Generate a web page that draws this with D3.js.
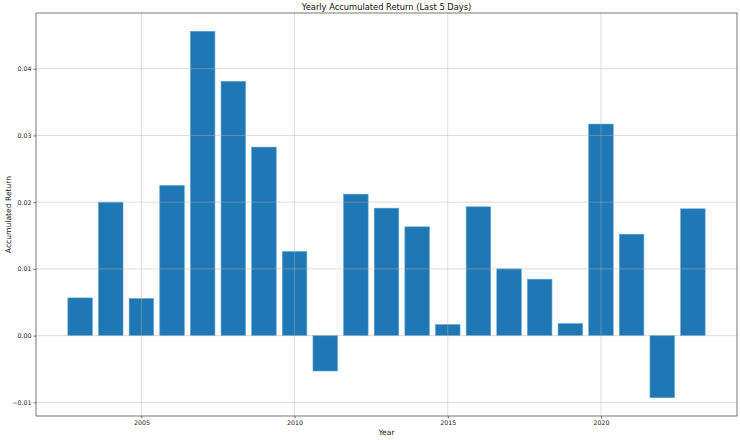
<!DOCTYPE html>
<html><head><meta charset="utf-8">
<script src="https://cdn.jsdelivr.net/npm/d3@7"></script>
<style>body{margin:0;background:#fff}svg{display:block}text{font-family:"DejaVu Sans",sans-serif}</style>
</head><body><svg id="c" width="740" height="440"></svg>
<script>
const years = [2003,2004,2005,2006,2007,2008,2009,2010,2011,2012,2013,2014,2015,2016,2017,2018,2019,2020,2021,2022,2023];
const returns = [0.00565,0.0200,0.00555,0.0225,0.0456,0.0381,0.02825,0.0126,-0.0053,0.0212,0.0191,0.0163,0.00165,0.0193,0.0100,0.00845,0.0018,0.0317,0.0152,-0.0093,0.0190];
const xTicks = [2005,2010,2015,2020];
const yTicks = [-0.01,0,0.01,0.02,0.03,0.04];

const svg = d3.select("#c");
const L=36, R=737, T=13, B=416;
const barW = 0.8;
const xMin = years[0]-barW/2, xMax = years[years.length-1]+barW/2;
const xPad = (xMax-xMin)*0.05;
const x = d3.scaleLinear().domain([xMin-xPad, xMax+xPad]).range([L,R]);
const yLo = Math.min(0,d3.min(returns)), yHi = d3.max(returns);
const yPad = (yHi-yLo)*0.05;
const y = d3.scaleLinear().domain([yLo-yPad, yHi+yPad]).range([B,T]);

// bars
svg.append("g").selectAll("rect").data(years).join("rect")
  .attr("x", (d)=>x(d-barW/2))
  .attr("width", (d)=>x(d+barW/2)-x(d-barW/2))
  .attr("y", (d,i)=>y(Math.max(0,returns[i])))
  .attr("height", (d,i)=>Math.abs(y(returns[i])-y(0)))
  .attr("fill","#1f77b4")
  .attr("stroke","#5a9fd4").attr("stroke-width",0.6);

// grid (drawn over bars)
const grid = svg.append("g").attr("stroke","#b0b0b0").attr("stroke-opacity",0.55).attr("stroke-width",0.8);
grid.selectAll(".gx").data(xTicks).join("line").attr("x1",d=>x(d)).attr("x2",d=>x(d)).attr("y1",T).attr("y2",B);
grid.selectAll(".gy").data(yTicks).join("line").attr("y1",d=>y(d)).attr("y2",d=>y(d)).attr("x1",L).attr("x2",R);

// axes
const xAxis = d3.axisBottom(x).tickValues(xTicks).tickFormat(d3.format("d")).tickSize(2.5).tickPadding(2);
const yAxis = d3.axisLeft(y).tickValues(yTicks).tickFormat(d=>d3.format(".2f")(d).replace("-","\u2212")).tickSize(2.5).tickPadding(2);
const gx = svg.append("g").attr("transform",`translate(0,${B})`).call(xAxis);
const gy = svg.append("g").attr("transform",`translate(${L},0)`).call(yAxis);
[gx,gy].forEach(g=>{
  g.select(".domain").remove();
  g.selectAll(".tick line").attr("stroke","#333").attr("stroke-width",0.7);
  g.selectAll(".tick text").attr("fill","#222").style("font-size","6.3px").style("font-family","DejaVu Sans");
});
// spines
svg.append("rect").attr("x",L).attr("y",T).attr("width",R-L).attr("height",B-T)
  .attr("fill","none").attr("stroke","#555").attr("stroke-width",0.8);

// labels
svg.append("text").attr("x",(L+R)/2).attr("y",10).attr("text-anchor","middle")
  .style("font-size","8.3px").attr("fill","#111").text("Yearly Accumulated Return (Last 5 Days)");
svg.append("text").attr("x",(L+R)/2).attr("y",435).attr("text-anchor","middle")
  .style("font-size","7.6px").attr("fill","#111").text("Year");
svg.append("text").attr("transform",`translate(10.5,${(T+B)/2}) rotate(-90)`).attr("text-anchor","middle")
  .style("font-size","7.6px").attr("fill","#111").text("Accumulated Return");
</script></body></html>
